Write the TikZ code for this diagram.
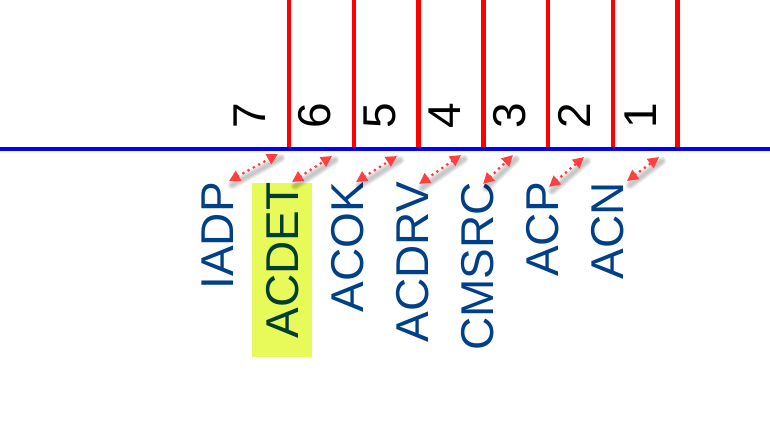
\documentclass[tikz,border=0pt]{standalone}
\usepackage{fontspec}
\setmainfont{Liberation Sans}
\usetikzlibrary{arrows.meta}
\definecolor{lblblue}{RGB}{0,64,136}
\definecolor{lblgreen}{RGB}{0,62,45}
\definecolor{hilite}{RGB}{232,250,90}
\definecolor{arrred}{RGB}{255,64,64}
\tikzset{
  x=1pt,y=-1pt,
  sigline/.style={draw=red,line width=4.5pt},
  busline/.style={draw=blue,line width=4pt},
  numlbl/.style={rotate=90,anchor=base east,inner sep=0pt,font=\fontsize{46}{46}\selectfont,text=black},
  pinlbl/.style={rotate=90,anchor=base east,inner sep=0pt,font=\fontsize{46}{46}\selectfont,text=lblblue},
  linkarrow/.style={draw=arrred,line width=3.2pt,dash pattern=on 0pt off 6pt,line cap=round,
    {Triangle[length=11pt,width=11pt]}-{Triangle[length=11pt,width=11pt]}},
  linkshadow/.style={draw=black,opacity=0.06,line cap=round,line width=#1},
}
\begin{document}
\begin{tikzpicture}
\useasboundingbox (0,0) rectangle (770,434);
% highlight behind ACDET
\fill[hilite] (252,183) rectangle (312,357);
% red vertical lines
\foreach \i/\x in {1/289,2/353.75,3/418.5,4/483.25,5/548,6/612.75,7/677.5}{
  \coordinate (t\i) at (\x,0);
  \coordinate (b\i) at (\x,147);
  \draw[sigline] (t\i) -- (b\i);
}
% blue line
\coordinate (bl) at (0,149);
\coordinate (br) at (770,149);
\draw[busline] (bl) -- (br);
% numbers
\node[numlbl] (n7) at (265,103) {7};
\node[numlbl] (n6) at (330,103) {6};
\node[numlbl] (n5) at (395,103) {5};
\node[numlbl] (n4) at (460,103) {4};
\node[numlbl] (n3) at (525,103) {3};
\node[numlbl] (n2) at (590,103) {2};
\node[numlbl] (n1) at (656,103) {1};
% pin labels
\node[pinlbl] (l1) at (233,182) {IADP};
\node[pinlbl,text=lblgreen] (l2) at (298,182) {ACDET};
\node[pinlbl] (l3) at (363,182) {ACOK};
\node[pinlbl] (l4) at (428,182) {ACDRV};
\node[pinlbl] (l5) at (493,182) {CMSRC};
\node[pinlbl] (l6) at (558,182) {ACP};
\node[pinlbl] (l7) at (623,182) {ACN};
% arrow endpoints
\coordinate (a1) at (229,181); \coordinate (c1) at (278,154);
\coordinate (a2) at (292,182); \coordinate (c2) at (332,156);
\coordinate (a3) at (356,182); \coordinate (c3) at (397,156);
\coordinate (a4) at (419,184); \coordinate (c4) at (461,155);
\coordinate (a5) at (483,184); \coordinate (c5) at (513,155);
\coordinate (a6) at (549,187); \coordinate (c6) at (584,157);
\coordinate (a7) at (627,181); \coordinate (c7) at (659,157);
\foreach \i in {1,...,7}{
  \begin{scope}[transform canvas={shift={(3pt,-4pt)}}]
    \foreach \w in {9pt,7pt,5pt,3pt}{
      \draw[linkshadow=\w] (a\i) -- (c\i);
    }
  \end{scope}
  \draw[linkarrow] (a\i) -- (c\i);
}
\end{tikzpicture}
\end{document}
